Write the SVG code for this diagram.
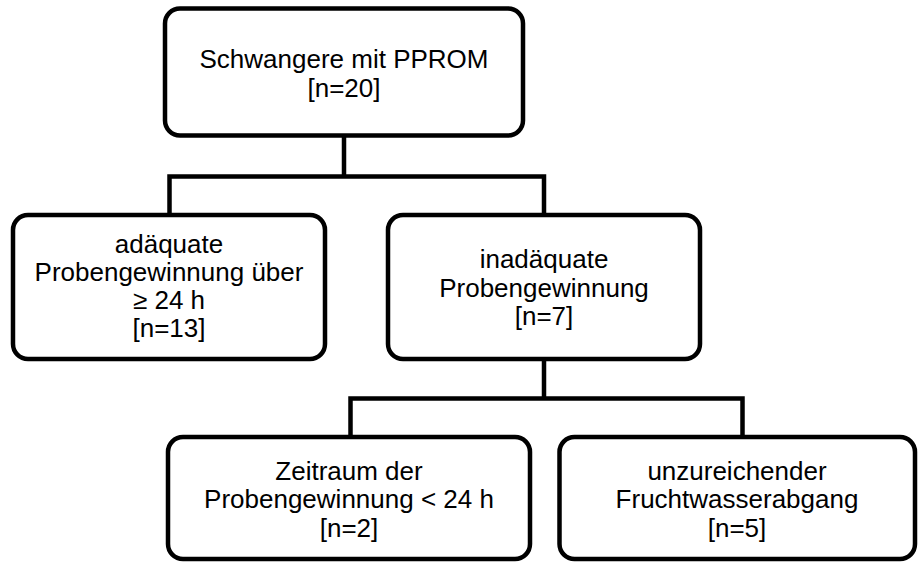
<svg xmlns="http://www.w3.org/2000/svg" width="919" height="563" viewBox="0 0 919 563">
<style>
.box{fill:#fff;stroke:#000;stroke-width:4.5}
.con{fill:none;stroke:#000;stroke-width:4.5;stroke-linejoin:miter}
text{font-family:"Liberation Sans",Arial,sans-serif;font-size:26px;fill:#000;text-anchor:middle}
</style>
<rect width="919" height="563" fill="#fff"/>
<g id="connectors">
<path class="con" d="M344 136 V176.5 M169.5 215 V176.5 H544 V215"/>
<path class="con" d="M544 359 V398.5 M350.5 437 V398.5 H742.5 V437"/>
</g>
<g id="n1">
<rect class="box" x="165" y="8.5" width="358" height="127" rx="15"/>
<text x="344" y="68.3">Schwangere mit PPROM</text>
<text x="344" y="96.7">[n=20]</text>
</g>
<g id="n2">
<rect class="box" x="13" y="215" width="312" height="144" rx="15"/>
<text x="169" y="253.3">adäquate</text>
<text x="169" y="281.2">Probengewinnung über</text>
<text x="169" y="309">≥ 24 h</text>
<text x="169" y="336.7">[n=13]</text>
</g>
<g id="n3">
<rect class="box" x="388" y="215" width="312" height="144" rx="15"/>
<text x="544" y="268.3">inadäquate</text>
<text x="544" y="296.7">Probengewinnung</text>
<text x="544" y="325">[n=7]</text>
</g>
<g id="n4">
<rect class="box" x="168" y="437" width="362" height="122" rx="15"/>
<text x="349" y="480">Zeitraum der</text>
<text x="349" y="508.3">Probengewinnung &lt; 24 h</text>
<text x="349" y="536.7">[n=2]</text>
</g>
<g id="n5">
<rect class="box" x="559.5" y="437" width="355.5" height="122" rx="15"/>
<text x="737" y="480">unzureichender</text>
<text x="737" y="508.3">Fruchtwasserabgang</text>
<text x="737" y="536.7">[n=5]</text>
</g>
</svg>
